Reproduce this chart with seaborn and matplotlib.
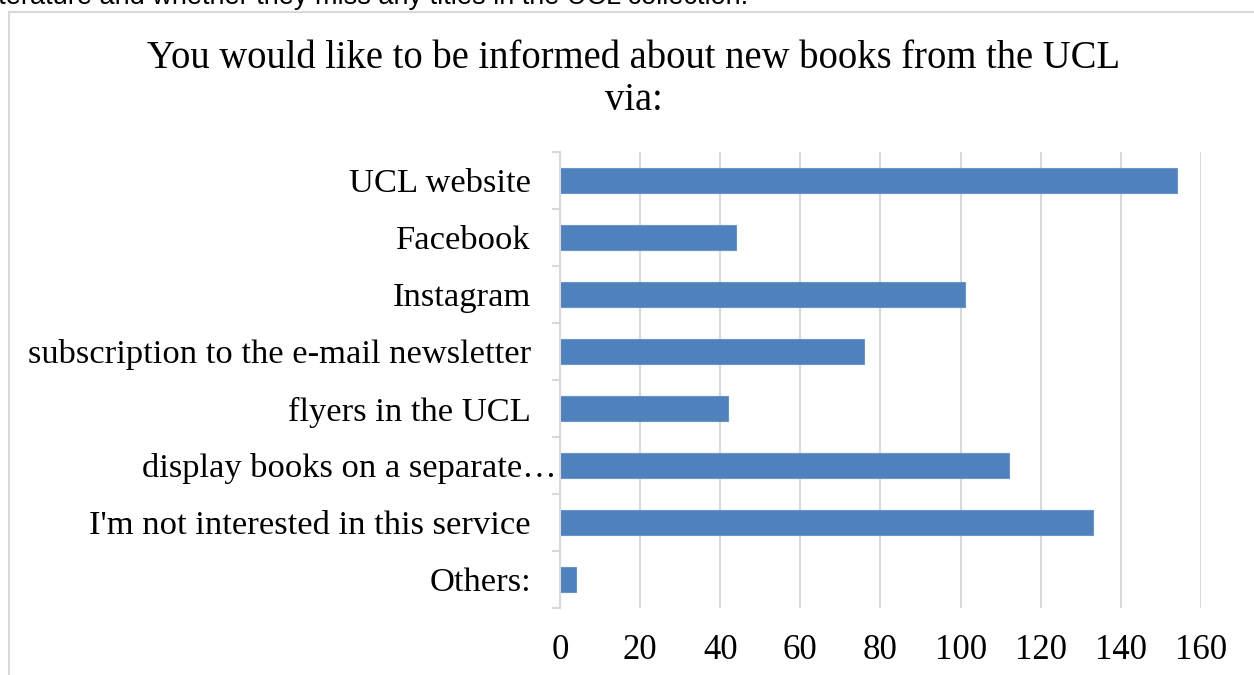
import matplotlib
matplotlib.use("Agg")
import matplotlib.pyplot as plt
import matplotlib.transforms as mtransforms
import seaborn as sns
from matplotlib.patches import Rectangle
from matplotlib.ticker import FixedLocator

categories = [
    "UCL website",
    "Facebook",
    "Instagram",
    "subscription to the e-mail newsletter",
    "flyers in the UCL",
    "display books on a separate\u2026",
    "I'm not interested in this service",
    "Others:",
]
values = [154, 44, 101, 76, 42, 112, 133, 4]
x_ticks = [0, 20, 40, 60, 80, 100, 120, 140, 160]
title_line1 = "You would like to be informed about new books from the UCL"
title_line2 = "via:"
top_text = "literature and whether they miss any titles in the UCL collection."

sns.set_theme(style="white")
plt.rcParams["font.family"] = ["Liberation Serif", "DejaVu Serif"]

W, H = 1254, 675
fig = plt.figure(figsize=(W / 100, H / 100), dpi=100)
fig.patch.set_facecolor("white")

# chart border (cut by page edges)
fig.patches.append(Rectangle((9 / W, -0.5), 2.0, 1.5 - 12 / H, transform=fig.transFigure,
                             fill=False, edgecolor="#d9d9d9", linewidth=1.5, zorder=0))

# cut-off text of the surrounding document
fig.text(748 / W, 1 - 4 / H, top_text, ha="right", va="baseline",
         fontsize=19.5, family=["Liberation Sans", "DejaVu Sans"], color="black")

ax = fig.add_axes([560 / W, (H - 608) / H, (1201 - 560) / W, (608 - 152) / H])
sns.barplot(x=values, y=categories, orient="h", color="#4f81bd", width=0.43,
            saturation=1, edgecolor="#6a95c9", linewidth=0.8, ax=ax, zorder=3)

ax.set_xlim(0, 160)
ax.set_ylim(len(categories) - 0.5, -0.5)
ax.set_xticks(x_ticks)
ax.set_xticklabels([str(t) for t in x_ticks])
ax.grid(axis="x", color="#d9d9d9", linewidth=1.5, zorder=0)
ax.grid(axis="y", visible=False)
ax.set_xlabel("")
ax.set_ylabel("")

for side in ["top", "right", "bottom"]:
    ax.spines[side].set_visible(False)
ax.spines["left"].set_color("#d9d9d9")
ax.spines["left"].set_linewidth(1.5)
ax.spines["left"].set_zorder(4)

ax.yaxis.set_minor_locator(FixedLocator([i - 0.5 for i in range(len(categories) + 1)]))
ax.tick_params(axis="y", which="major", length=0, pad=21, labelsize=24.8, labelcolor="black")
ax.tick_params(axis="y", which="minor", length=6, width=1.5, color="#d9d9d9", left=True)
ax.tick_params(axis="x", length=0, pad=19, labelsize=25, labelcolor="black")

# the truncated label overflows its right alignment, as in the reference
for lab in ax.get_yticklabels():
    if lab.get_text().endswith("\u2026"):
        lab.set_transform(lab.get_transform() + mtransforms.ScaledTranslation(26 / 100, 0, fig.dpi_scale_trans))

fig.text(634 / W, 1 - 68 / H, title_line1, ha="center", va="baseline", fontsize=27.8, color="black")
fig.text(634 / W, 1 - 110 / H, title_line2, ha="center", va="baseline", fontsize=27.8, color="black")

fig.savefig("out.png", dpi=100)
